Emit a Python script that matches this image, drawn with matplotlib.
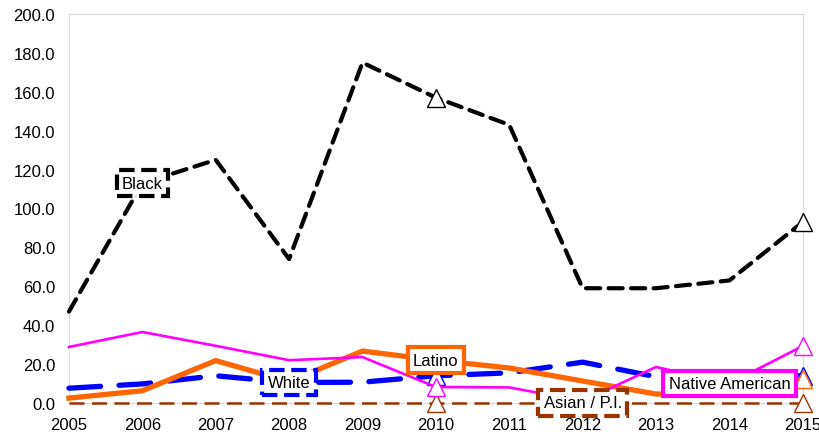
import matplotlib
matplotlib.use("Agg")
import matplotlib.pyplot as plt

plt.rcParams['font.family'] = ['Liberation Sans', 'DejaVu Sans']

years = [2005, 2006, 2007, 2008, 2009, 2010, 2011, 2012, 2013, 2014, 2015]
black = [47, 113, 125, 74, 175, 157, 143, 59, 59, 63, 93]
white = [7.6, 9.8, 14, 10.5, 10.7, 14, 15.5, 21, 13.5, 14, 14]
latino = [2.5, 6.3, 21.8, 11, 26.7, 22, 18, 11.3, 4.6, 5, 12.3]
asian = [0, 0, 0, 0, 0, 0, 0, 0, 0, 0, 0]
native = [28.8, 36.5, 29.4, 22, 23.6, 8.2, 8, 1, 18.5, 10, 29.3]

y_ticks = [0, 20, 40, 60, 80, 100, 120, 140, 160, 180, 200]

# name, values, colour, width, dash pattern (None = solid), label year, zorder
series = [
    ("Asian / P.I.", asian, "#993300", 1.8, (6, 3), 2012, 3),
    ("White", white, "#0000ff", 3.8, (6, 3.5), 2008, 4),
    ("Latino", latino, "#ff6600", 3.8, None, 2010, 5),
    ("Native American", native, "#ff00ff", 1.9, None, 2014, 6),
    ("Black", black, "#000000", 3.0, (3.4, 2.0), 2006, 7),
]

fig = plt.figure(figsize=(8.2, 4.35), dpi=100)
ax = fig.add_axes([0.0841, 0.0713, 0.8949, 0.8942])

for name, vals, color, lw, dashes, lab_year, z in series:
    line, = ax.plot(years, vals, color=color, lw=lw, zorder=z, clip_on=False,
                    solid_joinstyle='round', dash_joinstyle='round',
                    marker='^', markevery=[5, 10], markersize=13,
                    markerfacecolor='white', markeredgecolor=color,
                    markeredgewidth=1.0)
    if dashes is not None:
        line.set_dashes(dashes)
        line.set_dash_capstyle('round' if name in ("Black", "White") else 'butt')
    i = years.index(lab_year)
    box_ls = '--' if dashes is not None else '-'
    ax.annotate(name, xy=(lab_year, vals[i]), ha='center', va='center',
                fontsize=12, color='black', zorder=10,
                bbox=dict(boxstyle='square,pad=0.32', facecolor='white',
                          edgecolor=color, linewidth=3.0, linestyle=box_ls))

ax.set_xlim(2005, 2015)
ax.set_ylim(0, 200)
ax.set_xticks(years)
ax.set_xticklabels([str(y) for y in years])
ax.set_yticks(y_ticks)
ax.set_yticklabels([f"{v:.1f}" for v in y_ticks])
ax.tick_params(length=0, labelsize=12)
ax.tick_params(axis='y', pad=10)
ax.tick_params(axis='x', pad=10)
for sp in ax.spines.values():
    sp.set_color('#d9d9d9')
    sp.set_linewidth(0.8)

fig.savefig('out.png', dpi=100)
